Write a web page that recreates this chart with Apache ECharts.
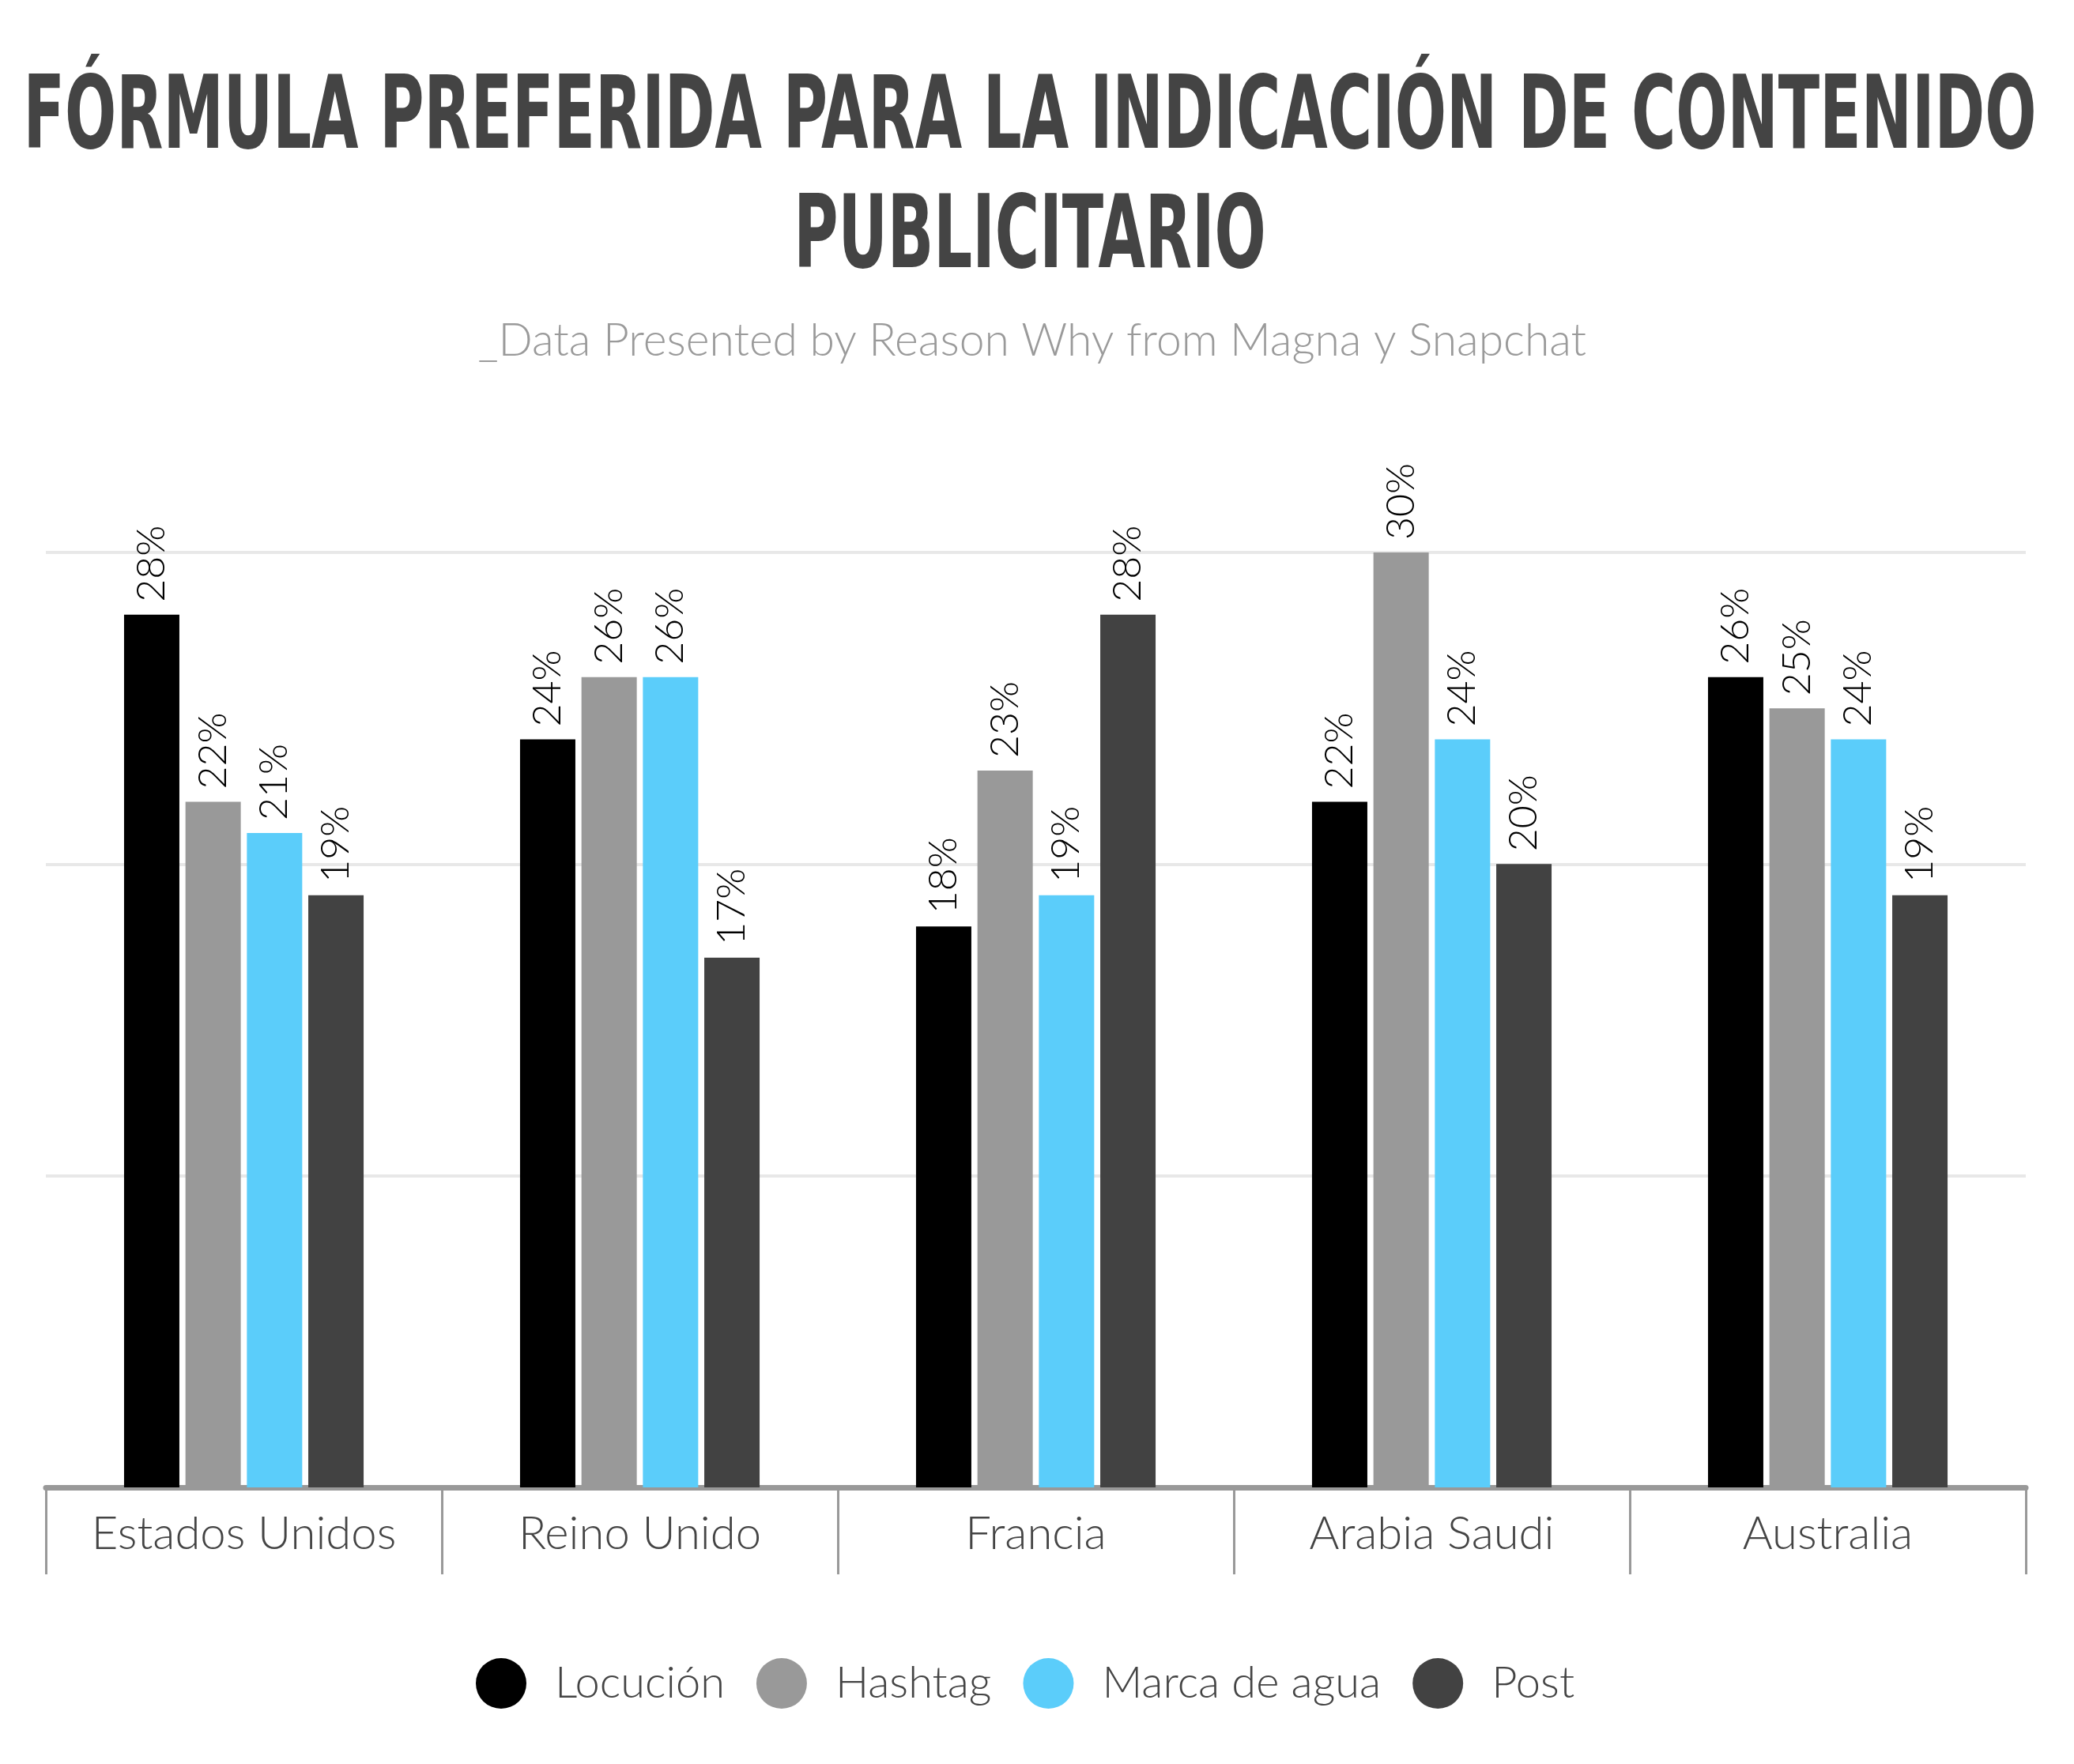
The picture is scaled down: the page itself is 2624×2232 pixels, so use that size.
<!DOCTYPE html>
<html>
<head>
<meta charset="utf-8">
<script src="https://cdn.jsdelivr.net/npm/echarts@6/dist/echarts.min.js"></script>
<style>
  html, body { margin: 0; padding: 0; background: #fff; }
  #chart { width: 2624px; height: 2232px; }
</style>
</head>
<body>
<div id="chart"></div>
<script>
// data
const countries = ['Estados Unidos', 'Reino Unido', 'Francia', 'Arabia Saudi', 'Australia'];
const locucion  = [28, 24, 18, 22, 26];
const hashtag   = [22, 26, 23, 30, 25];
const marca     = [21, 26, 19, 24, 24];
const post      = [19, 17, 28, 20, 19];
const seriesNames = ['Locución', 'Hashtag', 'Marca de agua', 'Post'];
const yTicks = [0, 10, 20, 30];

const COLORS = ['#000000', '#999999', '#5BCDFA', '#424242'];
const SANS = 'Lato, "Open Sans", sans-serif';
const TITLE_FONT = 'bold 117px "DejaVu Sans Condensed", "DejaVu Sans", sans-serif';
const TITLE_1 = 'FÓRMULA PREFERIDA PARA LA INDICACIÓN DE CONTENIDO';
const TITLE_2 = 'PUBLICITARIO';

// no condensed display face installed: squeeze the title to the reference width
const ctx = document.createElement('canvas').getContext('2d');
ctx.font = TITLE_FONT;
const titleScaleX = 2547 / ctx.measureText(TITLE_1).width;

const chart = echarts.init(document.getElementById('chart'), null, { renderer: 'canvas' });

const barLabel = {
  show: true,
  position: 'top',
  rotate: 90,
  align: 'left',
  verticalAlign: 'middle',
  distance: 16,
  color: '#000',
  fontFamily: SANS,
  fontWeight: 300,
  fontSize: 50,
  formatter: p => p.value + '%',
};

const mkSeries = (name, data, i) => ({
  name,
  type: 'bar',
  data,
  barWidth: 70,
  barGap: '11%',
  itemStyle: { color: COLORS[i] },
  label: barLabel,
});

const titleText = (text, y) => ({
  type: 'text',
  x: 1303,
  y,
  scaleX: titleScaleX,
  scaleY: 1.1,
  style: {
    text,
    fill: '#444444',
    font: TITLE_FONT,
    textAlign: 'center',
    textVerticalAlign: 'middle',
  },
});

chart.setOption({
  backgroundColor: '#ffffff',
  animation: false,
  color: COLORS,
  graphic: [
    titleText(TITLE_1, 154),
    titleText(TITLE_2, 305),
    {
      type: 'text',
      x: 1306,
      y: 432,
      style: {
        text: '_Data Presented by Reason Why from Magna y Snapchat',
        fill: '#9a9a9a',
        font: '300 57px Lato, "Open Sans", sans-serif',
        textAlign: 'center',
        textVerticalAlign: 'middle',
      },
    },
  ],
  legend: {
    data: seriesNames,
    left: 597,
    top: 2093,
    icon: 'circle',
    itemWidth: 64,
    itemHeight: 64,
    itemGap: 40,
    textStyle: {
      color: '#444',
      fontFamily: SANS,
      fontWeight: 300,
      fontSize: 56,
      padding: [0, 0, 0, 31],
    },
  },
  grid: { left: 58, right: 61, top: 699, bottom: 350, containLabel: false },
  xAxis: {
    type: 'category',
    data: countries,
    axisLine: { lineStyle: { color: '#999', width: 7 } },
    axisTick: { show: true, interval: 0, length: 110, lineStyle: { color: '#999', width: 3 } },
    axisLabel: {
      color: '#444',
      fontFamily: SANS,
      fontWeight: 300,
      fontSize: 58,
      margin: 30,
      interval: 0,
    },
  },
  yAxis: {
    type: 'value',
    min: yTicks[0],
    max: yTicks[yTicks.length - 1],
    interval: 10,
    axisLine: { show: false },
    axisTick: { show: false },
    axisLabel: { show: false },
    splitLine: { lineStyle: { color: '#e8e8e8', width: 4 } },
  },
  series: [
    mkSeries(seriesNames[0], locucion, 0),
    mkSeries(seriesNames[1], hashtag, 1),
    mkSeries(seriesNames[2], marca, 2),
    mkSeries(seriesNames[3], post, 3),
  ],
});

window.addEventListener('resize', () => chart.resize());
</script>
</body>
</html>
